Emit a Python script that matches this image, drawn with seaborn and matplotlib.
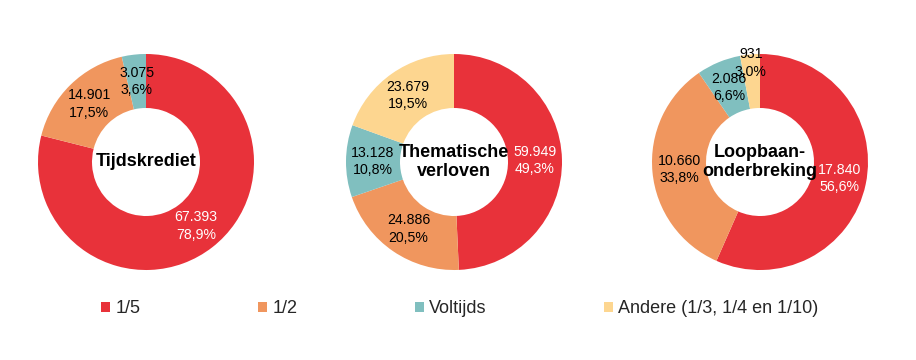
import numpy as np
import matplotlib
matplotlib.use("Agg")
import matplotlib.pyplot as plt
import seaborn as sns
from matplotlib.patches import Patch

categories = ["1/5", "1/2", "Voltijds", "Andere (1/3, 1/4 en 1/10)"]
colors = ["#E8323A", "#F0965E", "#80BFBF", "#FDD690"]

titles = ["Tijdskrediet", "Thematische\nverloven", "Loopbaan-\nonderbreking"]
values = [
    [67393, 14901, 3075, 0],
    [59949, 24886, 13128, 23679],
    [17840, 10660, 2086, 931],
]
labels = [
    ["67.393\n78,9%", "14.901\n17,5%", "3.075\n3,6%", ""],
    ["59.949\n49,3%", "24.886\n20,5%", "13.128\n10,8%", "23.679\n19,5%"],
    ["17.840\n56,6%", "10.660\n33,8%", "2.086\n6,6%", "931\n3,0%"],
]

sns.set_theme(style="white")
plt.rcParams["font.family"] = ["Liberation Sans", "DejaVu Sans"]

fig = plt.figure(figsize=(9.16, 3.6), dpi=100)
centers = [146, 454, 760]
R = 108
for i in range(3):
    ax = fig.add_axes([(centers[i] - R) / 916, (198 - R) / 360, 2 * R / 916, 2 * R / 360])
    vals = np.array(values[i], dtype=float)
    keep = vals > 0
    wedges, _ = ax.pie(vals[keep], colors=[c for c, k in zip(colors, keep) if k],
                       startangle=90, counterclock=False, radius=1,
                       wedgeprops=dict(width=0.5, edgecolor="none"))
    frac = vals / vals.sum()
    start = 0.0
    for j in range(4):
        if not keep[j]:
            continue
        mid = start + frac[j] / 2
        start += frac[j]
        ang = np.deg2rad(90 - mid * 360)
        r = 0.75
        if frac[j] < 0.035:
            r = 0.92
        ax.text(r * np.cos(ang), r * np.sin(ang), labels[i][j], ha="center", va="center",
                fontsize=10.2, color="white" if j == 0 else "black", linespacing=1.3)
    ax.text(0, 0, titles[i], ha="center", va="center", fontsize=13,
            fontweight="bold", color="black", linespacing=1.2)
    ax.set_xlim(-1, 1)
    ax.set_ylim(-1, 1)
    ax.set_aspect("equal")
    ax.axis("off")

handles = [Patch(facecolor=c, edgecolor="none") for c in colors]
fig.legend(handles, categories, loc="center", bbox_to_anchor=(0.502, 0.142), ncol=4,
           frameon=False, fontsize=13, handlelength=0.5, handleheight=0.5,
           handletextpad=0.3, columnspacing=6.5)

fig.savefig("out.png", dpi=100)
